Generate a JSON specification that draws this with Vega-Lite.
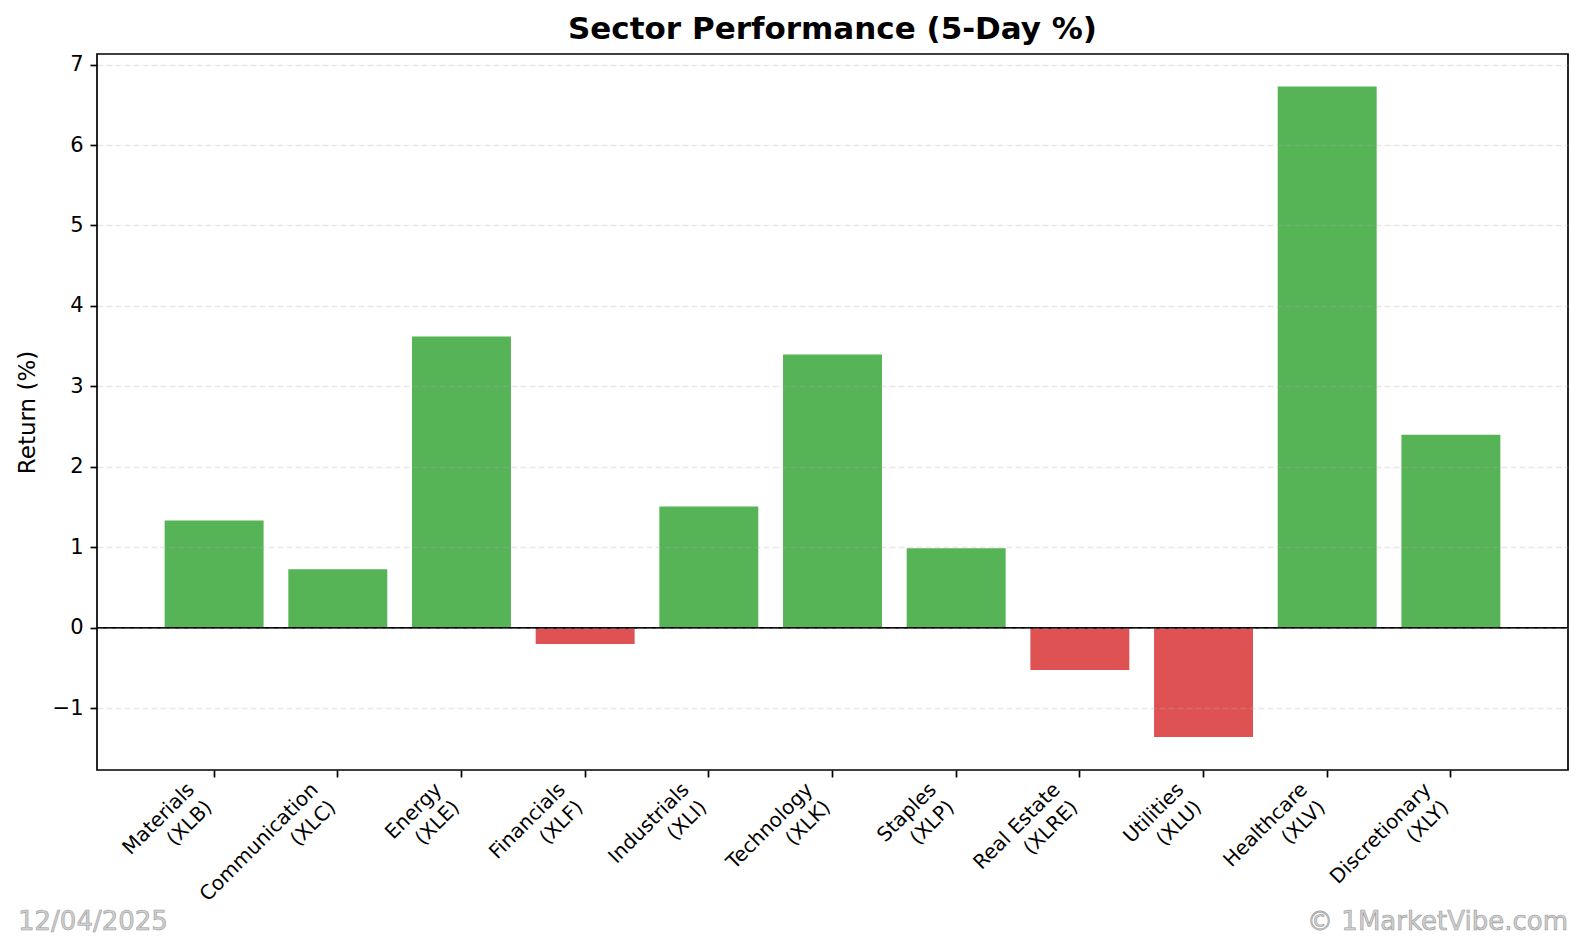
{
  "$schema": "https://vega.github.io/schema/vega-lite/v6.json",
  "padding": {"left": 15, "top": 12, "right": 15, "bottom": 5},
  "bounds": "flush",
  "spacing": 142,
  "config": {
    "font": "DejaVu Sans",
    "view": {"stroke": null},
    "axis": {"labelColor": "#000", "titleColor": "#000", "tickColor": "#000"}
  },
  "vconcat": [
    {
      "width": 1471,
      "height": 716,
      "title": {
        "text": "Sector Performance (5-Day %)",
        "fontSize": 31,
        "fontWeight": "bold",
        "color": "#000",
        "baseline": "alphabetic",
        "offset": -16,
        "anchor": "middle",
        "frame": "group"
      },
      "view": {"stroke": "#000", "strokeWidth": 1.7},
      "layer": [
        {
          "data": {
            "values": [
              {"sector": "Materials (XLB)", "ret": 1.335},
              {"sector": "Communication (XLC)", "ret": 0.727},
              {"sector": "Energy (XLE)", "ret": 3.621},
              {"sector": "Financials (XLF)", "ret": -0.2},
              {"sector": "Industrials (XLI)", "ret": 1.509},
              {"sector": "Technology (XLK)", "ret": 3.398},
              {"sector": "Staples (XLP)", "ret": 0.99},
              {"sector": "Real Estate (XLRE)", "ret": -0.524},
              {"sector": "Utilities (XLU)", "ret": -1.356},
              {"sector": "Healthcare (XLV)", "ret": 6.727},
              {"sector": "Discretionary (XLY)", "ret": 2.4}
            ]
          },
          "mark": {"type": "bar"},
          "encoding": {
            "x": {
              "field": "sector",
              "type": "nominal",
              "sort": null,
              "scale": {"paddingInner": 0.2, "paddingOuter": 0.547},
              "axis": {
                "title": null,
                "domain": false,
                "labelAngle": -45,
                "labelAlign": "right",
                "labelBaseline": "top",
                "labelFontSize": 20,
                "labelLineHeight": 25,
                "labelOffset": -30,
                "labelPadding": 2,
                "tickSize": 7,
                "tickWidth": 1.7,
                "labelExpr": "[slice(datum.label, 0, indexof(datum.label, ' (')), slice(datum.label, indexof(datum.label, ' (') + 1)]"
              }
            },
            "y": {
              "field": "ret",
              "type": "quantitative",
              "scale": {"domain": [-1.766, 7.131], "nice": false, "zero": false},
              "axis": {
                "values": [-1, 0, 1, 2, 3, 4, 5, 6, 7],
                "format": "d",
                "domain": false,
                "grid": true,
                "gridDash": [6, 3],
                "gridColor": "#b0b0b0",
                "gridOpacity": 0.3,
                "gridWidth": 1.6,
                "zindex": 1,
                "labelFontSize": 21,
                "labelPadding": 7,
                "tickSize": 7,
                "tickWidth": 1.7,
                "title": "Return (%)",
                "titleFontSize": 23,
                "titleFontWeight": "normal",
                "titleAngle": 270,
                "titleBaseline": "alphabetic",
                "titleAlign": "center",
                "titleX": -63,
                "titleY": 358
              }
            },
            "y2": {"datum": 0},
            "color": {
              "condition": {"test": "datum.ret < 0", "value": "#de5253"},
              "value": "#56b356"
            }
          }
        },
        {
          "data": {"values": [{"ret": 0}]},
          "mark": {"type": "rule", "color": "#000", "strokeWidth": 1.7},
          "encoding": {"y": {"field": "ret", "type": "quantitative"}}
        }
      ]
    },
    {
      "width": 1471,
      "height": 0,
      "data": {
        "values": [
          {"kind": "date", "label": "12/04/2025"},
          {"kind": "credit", "label": "© 1MarketVibe.com"}
        ]
      },
      "encoding": {
        "x": {
          "field": "label",
          "type": "nominal",
          "scale": {"type": "point", "padding": 0, "range": [-79, 1471], "domain": ["12/04/2025", "© 1MarketVibe.com"]},
          "axis": null
        },
        "text": {"field": "label"}
      },
      "layer": [
        {
          "transform": [{"filter": "datum.kind == 'date'"}],
          "mark": {"type": "text", "align": "left", "baseline": "middle", "fontSize": 26, "fill": "#d0d0d0", "stroke": "#9a9a9a", "strokeWidth": 0.6}
        },
        {
          "transform": [{"filter": "datum.kind == 'credit'"}],
          "mark": {"type": "text", "align": "right", "baseline": "middle", "fontSize": 26, "fill": "#d0d0d0", "stroke": "#9a9a9a", "strokeWidth": 0.6}
        }
      ]
    }
  ]
}
